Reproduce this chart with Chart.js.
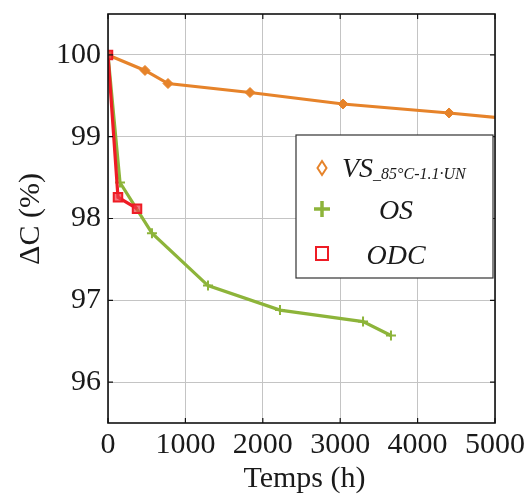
<!DOCTYPE html>
<html>
<head>
<meta charset="utf-8">
<script src="https://cdn.jsdelivr.net/npm/chart.js@4.4.0/dist/chart.umd.min.js"></script>
<style>
html,body{margin:0;padding:0;background:#fff;}
#wrap{width:530px;height:501px;position:relative;}
</style>
</head>
<body>
<div id="wrap"><canvas id="c" width="530" height="501"></canvas></div>
<script>
// Data
const vsX  = [0, 478, 775, 1835, 3036, 4406, 5500];
const vsY  = [100, 99.81, 99.65, 99.54, 99.40, 99.29, 99.19];
const osX  = [0, 155, 568, 1292, 2222, 3295, 3656];
const osY  = [100, 98.44, 97.82, 97.18, 96.88, 96.74, 96.57];
const odcX = [0, 129, 375];
const odcY = [100, 98.26, 98.12];
const xTicks = [0, 1000, 2000, 3000, 4000, 5000];
const yTicks = [96, 97, 98, 99, 100];
const seriesNames = ['VS', 'OS', 'ODC'];
const vsSub = '_85°C-1.1·UN';
const xTitle = 'Temps (h)';
const yTitle = 'ΔC (%)';

const pts = (xs, ys) => xs.map((x, i) => ({x: x, y: ys[i]}));
const ORANGE = '#E6832A', GREEN = '#8DB43A', RED = '#EE1C25';
const FONT = '"Liberation Serif", "Times New Roman", serif';

const framePlugin = {
  id: 'frame',
  afterDraw(chart) {
    const {ctx, chartArea: a, scales} = chart;
    ctx.save();
    // frame
    ctx.strokeStyle = '#111';
    ctx.lineWidth = 1.6;
    ctx.strokeRect(a.left, a.top, a.right - a.left, a.bottom - a.top);
    // inward tick marks
    ctx.lineWidth = 1.2;
    ctx.beginPath();
    xTicks.forEach(v => {
      const px = scales.x.getPixelForValue(v);
      ctx.moveTo(px, a.bottom); ctx.lineTo(px, a.bottom - 5);
      ctx.moveTo(px, a.top); ctx.lineTo(px, a.top + 5);
    });
    yTicks.forEach(v => {
      const py = scales.y.getPixelForValue(v);
      ctx.moveTo(a.left, py); ctx.lineTo(a.left + 5, py);
      ctx.moveTo(a.right, py); ctx.lineTo(a.right - 5, py);
    });
    ctx.stroke();

    // axis titles
    ctx.fillStyle = '#1a1a1a';
    ctx.font = '30px ' + FONT;
    ctx.textAlign = 'center';
    ctx.textBaseline = 'middle';
    ctx.fillText(xTitle, (a.left + a.right) / 2 + 3, 479);
    ctx.save();
    ctx.translate(31, 219);
    ctx.rotate(-Math.PI / 2);
    ctx.fillText(yTitle, 0, 0);
    ctx.restore();

    // legend box
    const lx = 296, ly = 135, lw = 197, lh = 143;
    ctx.fillStyle = '#fff';
    ctx.fillRect(lx, ly, lw, lh);
    ctx.strokeStyle = '#333';
    ctx.lineWidth = 1.2;
    ctx.strokeRect(lx, ly, lw, lh);

    // legend markers
    const mx = 322;
    ctx.strokeStyle = ORANGE; ctx.lineWidth = 2;
    ctx.beginPath();
    ctx.moveTo(mx, 161); ctx.lineTo(mx + 4.5, 168); ctx.lineTo(mx, 175); ctx.lineTo(mx - 4.5, 168); ctx.closePath();
    ctx.stroke();
    ctx.strokeStyle = GREEN; ctx.lineWidth = 3.5;
    ctx.beginPath();
    ctx.moveTo(mx - 8, 209); ctx.lineTo(mx + 8, 209);
    ctx.moveTo(mx, 201); ctx.lineTo(mx, 217);
    ctx.stroke();
    ctx.strokeStyle = RED; ctx.lineWidth = 2;
    ctx.strokeRect(mx - 6, 247, 12, 13);

    // legend texts
    ctx.fillStyle = '#1a1a1a';
    ctx.textAlign = 'left';
    ctx.textBaseline = 'alphabetic';
    ctx.font = 'italic 28px ' + FONT;
    ctx.fillText(seriesNames[0], 342, 177);
    const vsW = ctx.measureText(seriesNames[0]).width;
    ctx.font = 'italic 16px ' + FONT;
    ctx.fillText(vsSub, 342 + vsW, 179);
    ctx.font = 'italic 28px ' + FONT;
    ctx.textAlign = 'center';
    ctx.fillText(seriesNames[1], 396, 219);
    ctx.fillText(seriesNames[2], 396, 264);
    ctx.restore();
  }
};

new Chart(document.getElementById('c'), {
  type: 'line',
  data: {
    datasets: [
      {label: seriesNames[0], data: pts(vsX, vsY), order: 1, borderColor: ORANGE, backgroundColor: ORANGE,
       borderWidth: 3.2, pointStyle: 'rectRot', pointRadius: 5, pointBorderWidth: 1, pointBackgroundColor: ORANGE, pointBorderColor: ORANGE, tension: 0},
      {label: seriesNames[1], data: pts(osX, osY), order: 2, borderColor: GREEN, backgroundColor: GREEN,
       borderWidth: 3.2, pointStyle: 'cross', pointRadius: 5, pointBorderWidth: 2, pointBorderColor: GREEN, tension: 0},
      {label: seriesNames[2], data: pts(odcX, odcY), order: 0, borderColor: RED, backgroundColor: 'rgba(240,60,70,0.7)',
       borderWidth: 3.2, pointStyle: 'rect', pointRadius: 6, pointBorderWidth: 2, pointBorderColor: RED, pointBackgroundColor: 'rgba(240,60,70,0.7)', tension: 0}
    ]
  },
  options: {
    responsive: false,
    animation: false,
    events: [],
    layout: {padding: {left: 0, top: 14, right: 35, bottom: 0}},
    plugins: {legend: {display: false}, tooltip: {enabled: false}},
    scales: {
      x: {
        type: 'linear', min: 0, max: 5000,
        afterFit(s) { s.height = 78; s.paddingLeft = 0; s.paddingRight = 0; },
        afterBuildTicks(s) { s.ticks = xTicks.map(v => ({value: v})); },
        grid: {color: '#c4c4c4', lineWidth: 1, drawTicks: false},
        border: {display: false},
        ticks: {color: '#1a1a1a', font: {family: FONT, size: 30}, padding: 4, maxRotation: 0, autoSkip: false,
                callback: v => String(v)}
      },
      y: {
        type: 'linear', min: 95.5, max: 100.5,
        afterFit(s) { s.width = 108; s.paddingTop = 0; s.paddingBottom = 0; },
        afterBuildTicks(s) { s.ticks = yTicks.map(v => ({value: v})); },
        grid: {color: '#c4c4c4', lineWidth: 1, drawTicks: false},
        border: {display: false},
        ticks: {color: '#1a1a1a', font: {family: FONT, size: 30}, padding: 7, autoSkip: false,
                callback: v => String(v)}
      }
    }
  },
  plugins: [framePlugin]
});
</script>
</body>
</html>
